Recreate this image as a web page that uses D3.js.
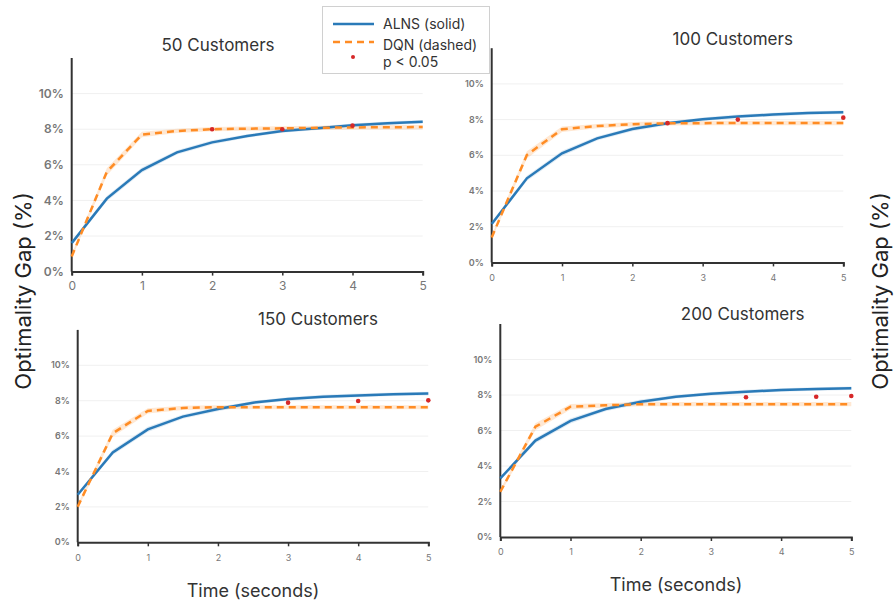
<!DOCTYPE html>
<html>
<head>
<meta charset="utf-8">
<script src="https://d3js.org/d3.v7.min.js"></script>
<style>
  body { margin: 0; background: #fff; }
  svg { font-family: Inter, "Noto Sans", sans-serif; }
</style>
</head>
<body>
<svg id="chart" width="896" height="603"></svg>
<script>
// time points (seconds)
const times = [0, 0.5, 1, 1.5, 2, 2.5, 3, 3.5, 4, 4.5, 5];

// optimality gap (%) per panel
const alns50  = [1.6, 4.1, 5.7, 6.7, 7.26, 7.62, 7.9, 8.05, 8.22, 8.33, 8.42];
const dqn50   = [0.85, 5.6, 7.7, 7.9, 8.0, 8.03, 8.05, 8.08, 8.1, 8.11, 8.12];
const alns100 = [2.15, 4.71, 6.11, 6.95, 7.47, 7.79, 8.02, 8.18, 8.28, 8.37, 8.41];
const dqn100  = [1.4, 6.02, 7.46, 7.64, 7.74, 7.79, 7.8, 7.81, 7.81, 7.81, 7.81];
const alns150 = [2.69, 5.08, 6.38, 7.1, 7.53, 7.89, 8.1, 8.23, 8.3, 8.36, 8.4];
const dqn150  = [2.01, 6.16, 7.42, 7.59, 7.63, 7.63, 7.63, 7.63, 7.63, 7.63, 7.63];
const alns200 = [3.3, 5.43, 6.54, 7.21, 7.62, 7.9, 8.07, 8.19, 8.28, 8.34, 8.38];
const dqn200  = [2.55, 6.21, 7.34, 7.42, 7.48, 7.48, 7.48, 7.48, 7.48, 7.48, 7.48];

// half-width of the shaded bands
const alnsBand = [0.1, 0.15, 0.15, 0.12, 0.12, 0.1, 0.1, 0.1, 0.1, 0.1, 0.1];
const dqnBand  = [0.12, 0.2, 0.15, 0.12, 0.12, 0.12, 0.12, 0.12, 0.12, 0.12, 0.12];

// p < 0.05 markers
const sig50T  = [2, 3, 4],     sig50V  = [8.0, 8.0, 8.2];
const sig100T = [2.5, 3.5, 5], sig100V = [7.8, 8.0, 8.11];
const sig150T = [3, 4, 5],     sig150V = [7.89, 7.98, 8.02];
const sig200T = [3.5, 4.5, 5], sig200V = [7.87, 7.9, 7.94];

const titles = ["50 Customers", "100 Customers", "150 Customers", "200 Customers"];
const xTicks = [0, 1, 2, 3, 4, 5];
const yTicks = [0, 2, 4, 6, 8, 10];

const panels = [
  { title: titles[0], alns: alns50,  dqn: dqn50,  sigT: sig50T,  sigV: sig50V,
    x0: 71.7, x1: 422.7, y0: 271.6, y1: 58,    tx: 218,   ty: 45,  fs: 12 },
  { title: titles[1], alns: alns100, dqn: dqn100, sigT: sig100T, sigV: sig100V,
    x0: 491.7, x1: 843.3, y0: 262.4, y1: 48.2, tx: 732.7, ty: 39,  fs: 9 },
  { title: titles[2], alns: alns150, dqn: dqn150, sigT: sig150T, sigV: sig150V,
    x0: 77.7, x1: 428.3, y0: 542.3, y1: 329.9, tx: 318,   ty: 319, fs: 9 },
  { title: titles[3], alns: alns200, dqn: dqn200, sigT: sig200T, sigV: sig200V,
    x0: 500.3, x1: 851.3, y0: 537, y1: 324,    tx: 742.7, ty: 314, fs: 9 }
];

const blue = "#2a7ab8", orange = "#ff8c24", red = "#d62728";
const svg = d3.select("#chart");

panels.forEach(p => {
  const x = d3.scaleLinear().domain([0, 5]).range([p.x0, p.x1]);
  const y = d3.scaleLinear().domain([0, 12]).range([p.y0, p.y1]);
  const g = svg.append("g");

  // gridlines
  g.selectAll(".grid").data(yTicks.slice(1)).enter().append("line")
    .attr("x1", p.x0).attr("x2", p.x1)
    .attr("y1", d => y(d)).attr("y2", d => y(d))
    .attr("stroke", "#f0f0f0").attr("stroke-width", 1);

  // y tick labels
  g.selectAll(".ylab").data(yTicks).enter().append("text")
    .attr("x", p.x0 - 8).attr("y", d => y(d)).attr("dy", "0.35em")
    .attr("text-anchor", "end").attr("font-size", p.fs)
    .attr("fill", "#777").attr("font-weight", 600)
    .text(d => d + "%");

  // x axis
  const xAxis = d3.axisBottom(x).tickValues(xTicks).tickFormat(d3.format("d"))
    .tickSize(4).tickPadding(p.fs > 10 ? 6 : 8);
  const ax = g.append("g").attr("transform", `translate(0,${p.y0})`).call(xAxis);
  ax.select(".domain").attr("stroke", "#333").attr("stroke-width", 2);
  ax.selectAll(".tick line").attr("stroke", "#333").attr("stroke-width", 1.5);
  ax.selectAll(".tick text").attr("font-size", p.fs).attr("fill", "#777")
    .attr("font-family", "Inter, 'Noto Sans', sans-serif");

  // y axis line
  g.append("line").attr("x1", p.x0).attr("x2", p.x0)
    .attr("y1", p.y0).attr("y2", p.y1)
    .attr("stroke", "#333").attr("stroke-width", 2);

  // bands
  const area = (vals, band) => d3.area()
    .x((d, i) => x(times[i]))
    .y0((d, i) => y(vals[i] - band[i]))
    .y1((d, i) => y(vals[i] + band[i]))(vals);
  g.append("path").attr("d", area(p.dqn, dqnBand)).attr("fill", orange).attr("opacity", 0.2);
  g.append("path").attr("d", area(p.alns, alnsBand)).attr("fill", blue).attr("opacity", 0.15);

  const line = d3.line().x((d, i) => x(times[i])).y(d => y(d));
  g.append("path").attr("d", line(p.alns)).attr("fill", "none")
    .attr("stroke", blue).attr("stroke-width", 2.5);
  g.append("path").attr("d", line(p.dqn)).attr("fill", "none")
    .attr("stroke", orange).attr("stroke-width", 2.5).attr("stroke-dasharray", "7,5");

  g.selectAll(".sig").data(p.sigT).enter().append("circle")
    .attr("cx", d => x(d)).attr("cy", (d, i) => y(p.sigV[i]))
    .attr("r", 2.3).attr("fill", red);

  g.append("text").attr("x", p.tx).attr("y", p.ty).attr("dy", "0.35em")
    .attr("text-anchor", "middle").attr("font-size", 17).attr("fill", "#333")
    .text(p.title);
});

// axis titles
svg.append("text").attr("transform", "translate(23,291) rotate(-90)")
  .attr("text-anchor", "middle").attr("dy", "0.35em").attr("font-size", 22).attr("fill", "#222")
  .text("Optimality Gap (%)");
svg.append("text").attr("transform", "translate(880,291) rotate(-90)")
  .attr("text-anchor", "middle").attr("dy", "0.35em").attr("font-size", 22).attr("fill", "#222")
  .text("Optimality Gap (%)");
svg.append("text").attr("x", 253).attr("y", 591).attr("dy", "0.35em")
  .attr("text-anchor", "middle").attr("font-size", 18).attr("fill", "#333")
  .text("Time (seconds)");
svg.append("text").attr("x", 676).attr("y", 585).attr("dy", "0.35em")
  .attr("text-anchor", "middle").attr("font-size", 18).attr("fill", "#333")
  .text("Time (seconds)");

// legend
const lg = svg.append("g");
lg.append("rect").attr("x", 322.5).attr("y", 6.5).attr("width", 167).attr("height", 67)
  .attr("fill", "#fff").attr("stroke", "#d0d0d0");
lg.append("line").attr("x1", 333).attr("x2", 374).attr("y1", 24).attr("y2", 24)
  .attr("stroke", blue).attr("stroke-width", 2.5);
lg.append("line").attr("x1", 333).attr("x2", 374).attr("y1", 42).attr("y2", 42)
  .attr("stroke", orange).attr("stroke-width", 2.5).attr("stroke-dasharray", "7,5");
lg.append("circle").attr("cx", 353).attr("cy", 57).attr("r", 2).attr("fill", red);
const legendText = ["ALNS (solid)", "DQN (dashed)", "p < 0.05"];
const legendY = [24, 45, 62];
lg.selectAll(".lt").data(legendText).enter().append("text")
  .attr("x", 383).attr("y", (d, i) => legendY[i]).attr("dy", "0.35em")
  .attr("font-size", 14).attr("fill", "#333").text(d => d);
</script>
</body>
</html>
